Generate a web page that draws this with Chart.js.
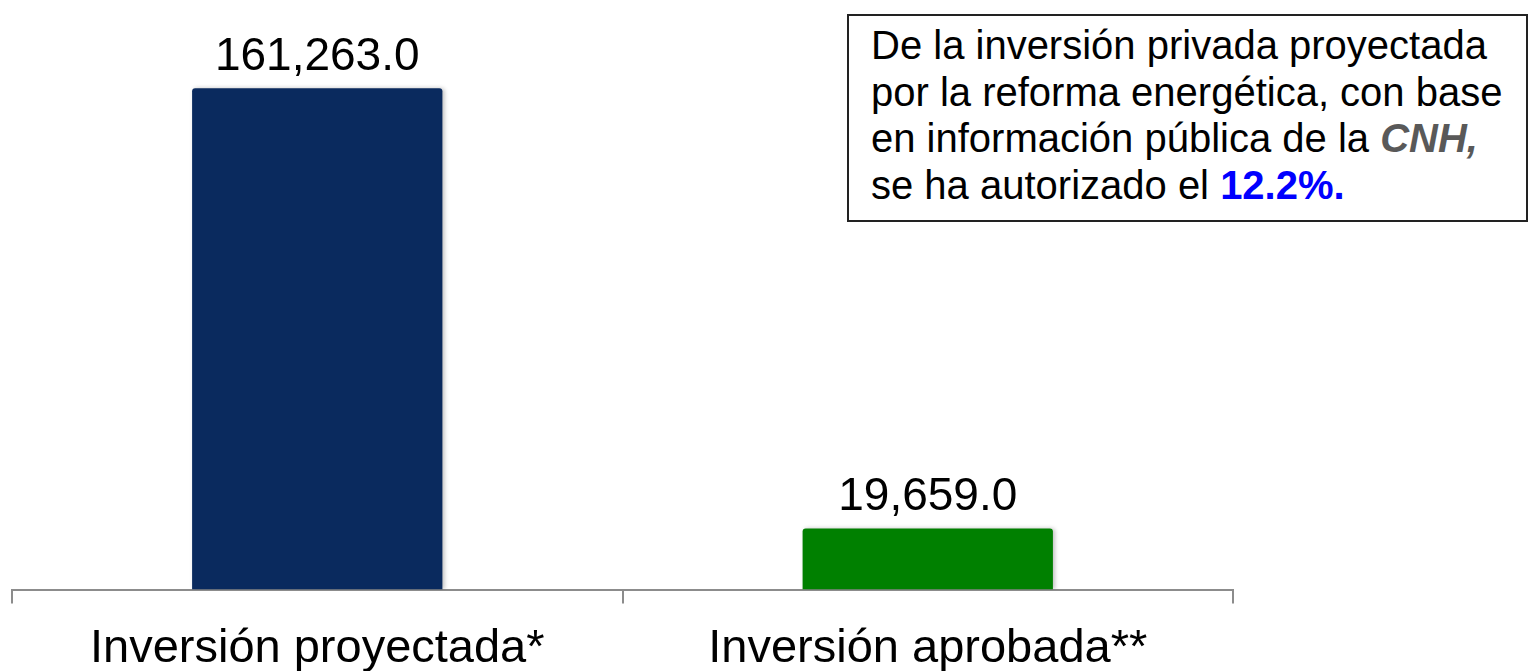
<!DOCTYPE html>
<html>
<head>
<meta charset="utf-8">
<script src="https://cdn.jsdelivr.net/npm/chart.js@4.4.0/dist/chart.umd.min.js"></script>
<style>
  html, body { margin: 0; padding: 0; background: #fff; }
  .wrap { position: relative; width: 1531px; height: 671px; }
  .note {
    position: absolute; left: 847px; top: 14px; width: 681px; height: 208px;
    border: 2px solid #222; background: #fff;
    font-family: "Liberation Sans", Arial, sans-serif; font-size: 40px; line-height: 46.5px;
    color: #000; padding: 6px 0 0 22px; box-sizing: border-box;
  }
  .note .cnh { color: #595959; font-weight: bold; font-style: italic; }
  .note .pct { color: #0000ff; font-weight: bold; }
</style>
</head>
<body>
<div class="wrap">
  <canvas id="barchart" width="1531" height="671"></canvas>
  <div class="note">
    De la inversión privada proyectada<br>
    por la reforma energética, con base<br>
    en información pública de la <span class="cnh">CNH,</span><br>
    se ha autorizado el <span class="pct">12.2%.</span>
  </div>
</div>
<script>
const categories = ["Inversión proyectada*", "Inversión aprobada**"];
const values = [161263.0, 19659.0];
const barColors = ["#0a2a5e", "#008000"];

// value labels above each bar
const valueLabels = {
  id: "valueLabels",
  afterDatasetsDraw(chart) {
    const ctx = chart.ctx;
    const meta = chart.getDatasetMeta(0);
    ctx.save();
    ctx.font = "46px 'Liberation Sans', Arial, sans-serif";
    ctx.fillStyle = "#000";
    ctx.textAlign = "center";
    ctx.textBaseline = "alphabetic";
    meta.data.forEach((bar, i) => {
      const txt = values[i].toLocaleString("en-US", { minimumFractionDigits: 1, maximumFractionDigits: 1 });
      ctx.fillText(txt, bar.x, bar.y - 18);
    });
    ctx.restore();
  }
};

// soft shadow behind the bars
const barShadow = {
  id: "barShadow",
  beforeDatasetsDraw(chart) {
    const ctx = chart.ctx;
    ctx.save();
    ctx.shadowColor = "rgba(0,0,0,0.25)";
    ctx.shadowBlur = 4;
    ctx.shadowOffsetX = 2;
    ctx.shadowOffsetY = 0;
  },
  afterDatasetsDraw(chart) {
    chart.ctx.restore();
  }
};

const ctx = document.getElementById("barchart");
new Chart(ctx, {
  type: "bar",
  data: {
    labels: categories,
    datasets: [
      {
        data: values,
        backgroundColor: barColors,
        borderRadius: { topLeft: 3, topRight: 3 },
        borderSkipped: "bottom",
        barPercentage: 0.41,
        categoryPercentage: 1.0,
      },
    ],
  },
  options: {
    responsive: false,
    animation: false,
    layout: { padding: { top: 30, left: 12, right: 298, bottom: -23 } },
    plugins: {
      legend: { display: false },
      tooltip: { enabled: false },
    },
    scales: {
      y: {
        display: false,
        min: 0,
        max: 180000,
      },
      x: {
        offset: true,
        grid: {
          display: true,
          drawOnChartArea: false,
          drawTicks: true,
          tickLength: 14,
          color: "#8c8c8c",
          lineWidth: 2,
        },
        border: { display: true, color: "#8c8c8c", width: 2 },
        ticks: {
          color: "#000",
          padding: 17,
          font: { family: "'Liberation Sans', Arial, sans-serif", size: 47 },
        },
      },
    },
  },
  plugins: [barShadow, valueLabels],
});
</script>
</body>
</html>
